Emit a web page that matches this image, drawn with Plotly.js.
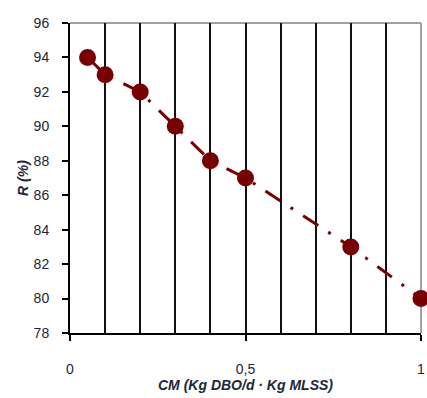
<!DOCTYPE html>
<html>
<head>
<meta charset="utf-8">
<script src="https://cdn.plot.ly/plotly-3.0.1.min.js"></script>
<style>html,body{margin:0;padding:0;background:#fff;}#chart{width:427px;height:398px;}</style>
</head>
<body>
<div id="chart"></div>
<script>
const cmValues = [0.05, 0.1, 0.2, 0.3, 0.4, 0.5, 0.8, 1.0];
const rValues = [94, 93, 92, 90, 88, 87, 83, 80];
const xTickVals = [0, 0.5, 1];
const xTickText = ['0', '0,5', '1'];

const trace = {
  x: cmValues, y: rValues, type: 'scatter', mode: 'lines+markers',
  line: {color: '#780000', width: 3, dash: '18px,12px,3px,12px'},
  marker: {color: '#780000', size: 17},
  cliponaxis: false
};

const layout = {
  width: 427, height: 398,
  margin: {l: 70, r: 6, t: 23, b: 65},
  paper_bgcolor: '#fff', plot_bgcolor: '#fff',
  showlegend: false,
  font: {family: 'Liberation Sans, Arial, sans-serif', size: 14, color: '#22263a'},
  xaxis: {
    range: [0, 1], tickvals: xTickVals, ticktext: xTickText,
    ticks: 'outside', ticklen: 6, tickcolor: '#000', tickwidth: 2,
    showline: true, linecolor: '#000', linewidth: 2,
    showgrid: true, gridcolor: '#111', gridwidth: 2,
    minor: {dtick: 0.1, showgrid: true, gridcolor: '#111', gridwidth: 2, ticks: ''},
    zeroline: false, ticklabelstandoff: 16,
    title: {text: 'CM (Kg DBO/d · Kg MLSS)', font: {size: 14, color: '#22263a', weight: 'bold', style: 'italic'}, standoff: 4}
  },
  yaxis: {
    range: [78, 96], dtick: 2,
    ticks: 'outside', ticklen: 6, tickcolor: '#000', tickwidth: 2,
    showline: true, linecolor: '#000', linewidth: 2,
    showgrid: false, zeroline: false, ticklabelstandoff: 10,
    title: {text: 'R (%)', font: {size: 14, color: '#22263a', weight: 'bold', style: 'italic'}, standoff: 2}
  },
  shapes: [
    {type: 'line', xref: 'paper', yref: 'paper', x0: 0, x1: 1, y0: 1, y1: 1, line: {color: '#a0a0a0', width: 2}, layer: 'between'},
    {type: 'line', xref: 'paper', yref: 'paper', x0: 1, x1: 1, y0: 0, y1: 1, line: {color: '#a0a0a0', width: 2}, layer: 'between'}
  ]
};

Plotly.newPlot('chart', [trace], layout, {displayModeBar: false, staticPlot: true});
</script>
</body>
</html>
